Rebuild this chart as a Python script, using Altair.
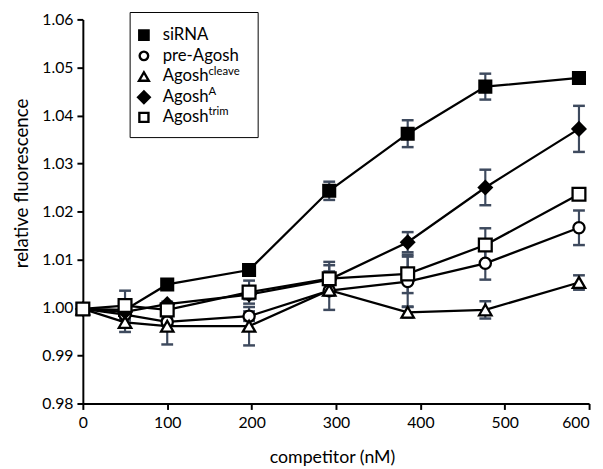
import altair as alt
import pandas as pd

# ---------------- data ----------------
competitor = [0, 50, 100, 197, 292, 385, 477, 588]

series_names = ["siRNA", "pre-Agosh", "Agosh_cleave", "Agosh_A", "Agosh_trim"]

sirna_vals = [0.9997, 0.9995, 1.0048, 1.0078, 1.0243, 1.0362, 1.0460, 1.0478]
sirna_errs = [0.0000, 0.0005, 0.0005, 0.0012, 0.0019, 0.0028, 0.0027, 0.0006]

pre_vals = [0.9997, 0.9985, 0.9970, 0.9982, 1.0035, 1.0054, 1.0092, 1.0166]
pre_errs = [0.0000, 0.0008, 0.0008, 0.0010, 0.0040, 0.0052, 0.0034, 0.0036]

cleave_vals = [0.9997, 0.9969, 0.9961, 0.9961, 1.0036, 0.9990, 0.9995, 1.0052]
cleave_errs = [0.0000, 0.0020, 0.0038, 0.0040, 0.0010, 0.0011, 0.0018, 0.0015]

agoshA_vals = [0.9997, 0.9991, 1.0007, 1.0027, 1.0058, 1.0136, 1.0250, 1.0372]
agoshA_errs = [0.0000, 0.0005, 0.0005, 0.0010, 0.0030, 0.0021, 0.0037, 0.0048]

trim_vals = [0.9997, 1.0004, 0.9995, 1.0032, 1.0060, 1.0070, 1.0130, 1.0236]
trim_errs = [0.0000, 0.0031, 0.0010, 0.0024, 0.0035, 0.0040, 0.0035, 0.0010]

values = {
    "siRNA": sirna_vals,
    "pre-Agosh": pre_vals,
    "Agosh_cleave": cleave_vals,
    "Agosh_A": agoshA_vals,
    "Agosh_trim": trim_vals,
}
errors = {
    "siRNA": sirna_errs,
    "pre-Agosh": pre_errs,
    "Agosh_cleave": cleave_errs,
    "Agosh_A": agoshA_errs,
    "Agosh_trim": trim_errs,
}

# legend texts (base + superscript)
legend_base = ["siRNA", "pre-Agosh", "Agosh", "Agosh", "Agosh"]
legend_sup = ["", "", "cleave", "A", "trim"]

x_ticks = [0, 100, 200, 300, 400, 500, 600]
y_ticks = [0.98, 0.99, 1.00, 1.01, 1.02, 1.03, 1.04, 1.05, 1.06]

# ---------------- styling ----------------
FONT = "Lato"
ERR_COLOR = "#3e4a5e"
styles = {
    "siRNA": dict(shape="square", fill="black", size=144, lsize=90),
    "pre-Agosh": dict(shape="circle", fill="white", size=130, lsize=75),
    "Agosh_cleave": dict(shape="triangle-up", fill="white", size=160, lsize=100),
    "Agosh_A": dict(shape="diamond", fill="black", size=170, lsize=140),
    "Agosh_trim": dict(shape="square", fill="white", size=169, lsize=85),
}

rows = []
for name in series_names:
    for xv, yv, ev in zip(competitor, values[name], errors[name]):
        rows.append(dict(series=name, x=xv, y=yv, lo=yv - ev, hi=yv + ev))
df = pd.DataFrame(rows)

x_axis = alt.Axis(
    values=x_ticks, title="competitor (nM)", grid=False,
    domainColor="black", domainWidth=2, tickColor="black", tickWidth=2, tickSize=6,
    labelFont=FONT, labelFontSize=16, labelColor="black", labelPadding=5,
    labelAlign={"condition": {"test": "datum.value == 600", "value": "right"}, "value": "center"},
    titleFont=FONT, titleFontSize=18, titleFontWeight="normal", titleColor="black",
    titleX=253, titleY=55, titleBaseline="middle", titleAnchor="middle",
)
y_axis = alt.Axis(
    values=y_ticks, format=".2f", title="relative fluorescence", grid=False,
    domainColor="black", domainWidth=2, tickColor="black", tickWidth=2, tickSize=6,
    labelFont=FONT, labelFontSize=16, labelColor="black", labelPadding=4,
    titleFont=FONT, titleFontSize=19, titleFontWeight="normal", titleColor="black",
    titleX=-62, titleY=166, titleBaseline="middle", titleAngle=-90, titleAnchor="middle",
)

YSCALE = alt.Scale(domain=[0.98, 1.06], nice=False, zero=False)
X = alt.X("x:Q", scale=alt.Scale(domain=[0, 600], nice=False, zero=False), axis=x_axis)
Y = alt.Y("y:Q", scale=YSCALE, axis=y_axis)

base = alt.Chart(df)

err_rule = base.mark_rule(color=ERR_COLOR, strokeWidth=2.2).encode(
    x=X, y=alt.Y("lo:Q", scale=YSCALE, axis=y_axis), y2="hi:Q")
cap_lo = base.mark_tick(color=ERR_COLOR, orient="horizontal", size=12, thickness=2.5, opacity=1).encode(
    x=X, y=alt.Y("lo:Q", scale=YSCALE, axis=y_axis))
cap_hi = base.mark_tick(color=ERR_COLOR, orient="horizontal", size=12, thickness=2.5, opacity=1).encode(
    x=X, y=alt.Y("hi:Q", scale=YSCALE, axis=y_axis))

layers = [err_rule, cap_lo, cap_hi]

for name in series_names:
    layers.append(
        base.transform_filter(alt.datum.series == name)
        .mark_line(color="black", strokeWidth=2.3)
        .encode(x=X, y=Y, order="x:Q")
    )
for name in series_names:
    st = styles[name]
    layers.append(
        base.transform_filter(alt.datum.series == name)
        .mark_point(shape=st["shape"], filled=True, fill=st["fill"], stroke="black",
                    strokeWidth=2.3, size=st["size"], opacity=1)
        .encode(x=X, y=Y)
    )

# ---------------- legend (drawn manually for superscripts) ----------------
leg_df = pd.DataFrame({"k": [0]})
leg = alt.Chart(leg_df)
layers.append(
    leg.mark_rect(fill="white", stroke="black", strokeWidth=1).encode(
        x=alt.value(48), x2=alt.value(178), y=alt.value(-7), y2=alt.value(120))
)
row_y = [16, 37, 58, 79, 99.5]
for i, name in enumerate(series_names):
    st = styles[name]
    layers.append(
        leg.mark_point(shape=st["shape"], filled=True, fill=st["fill"], stroke="black",
                       strokeWidth=2.4, size=st["lsize"], opacity=1)
        .encode(x=alt.value(62), y=alt.value(row_y[i]))
    )
    layers.append(
        leg.mark_text(align="left", baseline="middle", font=FONT, fontSize=17, color="black")
        .encode(x=alt.value(81), y=alt.value(row_y[i]), text=alt.value(legend_base[i]))
    )
    if legend_sup[i]:
        layers.append(
            leg.mark_text(align="left", baseline="middle", font=FONT, fontSize=11.5, color="black")
            .encode(x=alt.value(127.5), y=alt.value(row_y[i] - 5), text=alt.value(legend_sup[i]))
        )

chart = alt.layer(*layers).properties(
    width=514, height=390,
    padding={"left": 5, "top": 0, "right": 5, "bottom": 5},
).configure_view(stroke=None)

chart.save("out.html", embed_options={"renderer": "svg", "actions": False})
